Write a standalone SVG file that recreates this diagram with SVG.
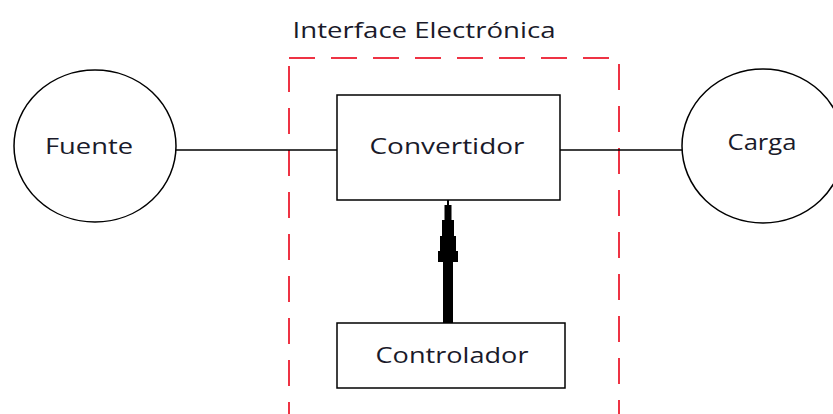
<svg xmlns="http://www.w3.org/2000/svg" width="833" height="414" viewBox="0 0 833 414">
<style>
.shape{fill:#fff;stroke:#000;stroke-width:1.5}
.lbl{font-family:"Open Sans","Liberation Sans",sans-serif;font-size:22px;fill:#1a1a2a;text-anchor:middle}
.wire{stroke:#000;stroke-width:1.5;fill:none}
</style>
<rect width="833" height="414" fill="#fff"/>
<g id="interface">
<rect x="289" y="58" width="330" height="380" fill="none" stroke="#ee3344" stroke-width="2" stroke-dasharray="26 16"/>
<text class="lbl" x="424" y="38" textLength="263" lengthAdjust="spacingAndGlyphs">Interface Electrónica</text>
</g>
<g id="connectors">
<line class="wire" x1="176" y1="150" x2="337" y2="150"/>
<line class="wire" x1="560" y1="150" x2="682" y2="150"/>
<rect x="443" y="258" width="10" height="65" fill="#000"/>
<polygon points="447,199 449,199 449,205 451.5,205 451.5,220 454,220 454,236 456,236 456,251 458,251 458,262 438,262 438,251 440,251 440,236 442,236 442,220 444.5,220 444.5,205 447,205" fill="#000"/>
</g>
<g id="fuente">
<ellipse class="shape" cx="95" cy="146" rx="81" ry="76"/>
<text class="lbl" x="89" y="154" textLength="88" lengthAdjust="spacingAndGlyphs">Fuente</text>
</g>
<g id="carga">
<ellipse class="shape" cx="763" cy="146" rx="81" ry="77"/>
<text class="lbl" x="762" y="150" textLength="69" lengthAdjust="spacingAndGlyphs">Carga</text>
</g>
<g id="convertidor">
<rect class="shape" x="337" y="95" width="223" height="105"/>
<text class="lbl" x="447" y="154" textLength="155" lengthAdjust="spacingAndGlyphs">Convertidor</text>
</g>
<g id="controlador">
<rect class="shape" x="337" y="323" width="228" height="65"/>
<text class="lbl" x="452" y="363" textLength="153" lengthAdjust="spacingAndGlyphs">Controlador</text>
</g>
</svg>
